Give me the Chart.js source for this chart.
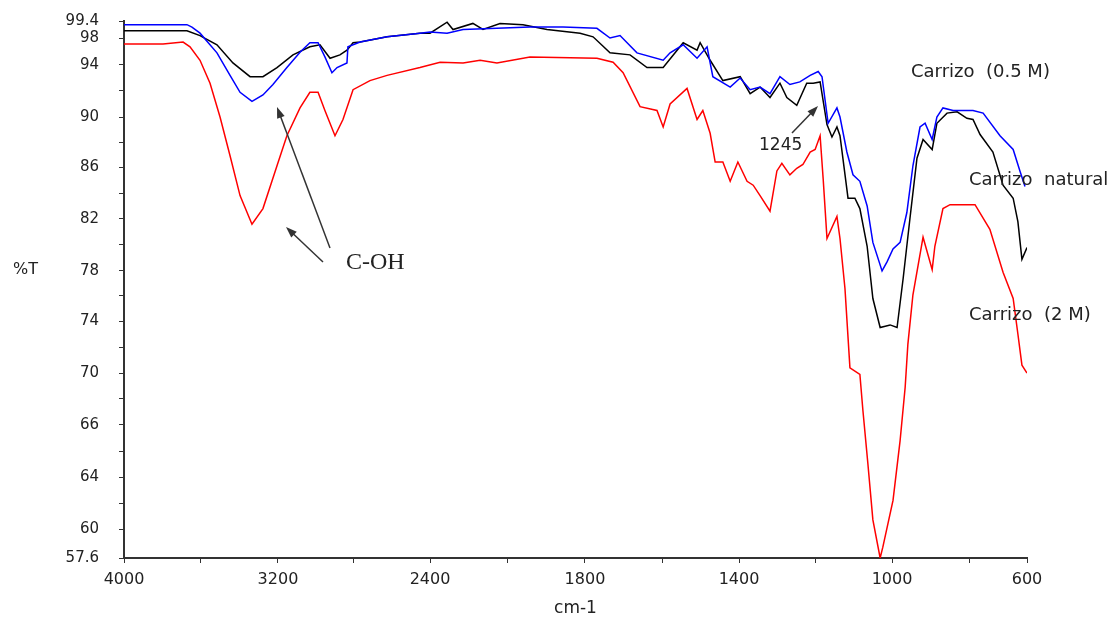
<!DOCTYPE html>
<html>
<head>
<meta charset="utf-8">
<script src="https://cdn.jsdelivr.net/npm/chart.js@4.4.1/dist/chart.umd.min.js"></script>
<style>
	html, body { margin: 0; padding: 0; background: #fff; }
	#wrap { width: 1120px; height: 620px; }
</style>
</head>
<body>
<div id="wrap"><canvas id="myChart" width="1120" height="620"></canvas></div>
<script>
// 축 눈금 (그림에 찍힌 그대로)
const waveTicks = [4000, 3200, 2400, 1800, 1400, 1000, 600];
const waveMinor = [3600, 2800, 2100, 1600, 1200, 770];
const transTicks = [99.4, 98, 94, 90, 86, 82, 78, 74, 70, 66, 64, 60, 57.6];
const transMinor = [92, 88, 84, 80, 76, 72, 68, 65, 62];

// Carrizo natural
const natWave = [4000,3673,3605,3517,3434,3345,3278,3205,3121,3032,2979,2926,2874,2837,2805,2768,2626,2453,2400,2334,2311,2234,2195,2129,2040,1947,1819,1779,1735,1683,1639,1597,1545,1509,1501,1475,1442,1397,1371,1345,1319,1293,1275,1249,1223,1206,1188,1170,1157,1144,1136,1115,1097,1084,1065,1050,1031,1005,985,967,947,926,908,881,867,837,807,778,760,739,701,671,641,627,615,600];
const natT = [98.6,98.6,98.2,97.0,94.3,93.1,93.1,93.8,95.5,96.7,97.0,95.0,95.5,96.2,97.3,97.4,98.1,98.4,98.4,99.3,98.7,99.2,98.7,99.2,99.1,98.7,98.4,98.1,95.8,95.5,93.8,93.8,97.3,96.2,97.3,94.7,92.8,93.1,91.8,92.3,91.5,92.6,91.5,90.9,92.6,92.6,92.7,89.4,88.4,89.2,88.5,83.6,83.6,82.8,79.9,75.8,73.5,73.7,73.5,77.4,82.0,86.7,88.2,87.4,89.5,90.3,90.4,89.9,89.8,88.6,87.2,84.6,83.6,81.8,78.9,79.8];

// Carrizo (0.5 M)
const m05Wave = [4000,3673,3647,3605,3517,3449,3397,3335,3278,3226,3153,3084,3032,2989,2953,2916,2889,2837,2832,2768,2626,2453,2400,2334,2272,2141,2013,1885,1769,1735,1709,1665,1597,1579,1545,1509,1483,1468,1423,1397,1371,1345,1319,1293,1267,1241,1214,1193,1183,1175,1167,1144,1136,1118,1102,1084,1065,1050,1026,1013,997,976,956,938,917,902,881,867,849,819,760,730,680,641,621,606];
const m05T = [99.1,99.1,98.9,98.4,95.8,93.2,91.9,91.2,91.7,92.5,93.8,95.9,97.3,97.3,95.2,93.4,93.8,94.3,96.7,97.4,98.1,98.4,98.5,98.4,98.7,98.8,98.9,98.9,98.8,98.0,98.2,95.8,94.7,95.8,97.0,95.0,96.7,93.1,92.3,93.0,92.1,92.3,91.8,93.1,92.5,92.7,93.2,93.5,93.1,91.3,89.5,90.7,90.0,87.2,85.4,84.9,83.0,80.2,78.0,78.7,79.7,80.2,82.5,86.1,89.2,89.5,88.2,90.0,90.7,90.5,90.5,90.3,88.5,87.4,85.7,84.5];

// Carrizo (2 M)
const m2Wave = [4000,3797,3693,3657,3605,3553,3501,3449,3397,3335,3278,3205,3153,3084,3032,2989,2953,2900,2858,2805,2716,2626,2453,2361,2272,2206,2141,2013,1769,1727,1701,1657,1613,1597,1579,1535,1509,1494,1475,1462,1442,1423,1403,1379,1363,1345,1319,1301,1288,1267,1249,1233,1214,1201,1188,1180,1170,1144,1136,1123,1110,1084,1076,1063,1050,1031,1024,997,976,961,953,938,908,881,873,849,828,754,710,671,641,627,615,600];
const m2T = [97.1,97.1,97.4,96.7,94.7,92.6,90.0,86.9,83.8,81.6,82.8,86.1,88.5,90.7,91.9,91.9,90.5,88.5,89.8,92.1,92.8,93.2,93.8,94.4,94.3,94.7,94.3,95.2,95.0,94.4,93.4,90.8,90.5,89.2,91.0,92.2,89.8,90.5,88.7,86.4,86.4,84.9,86.4,84.9,84.6,83.8,82.6,85.7,86.3,85.4,85.9,86.2,87.2,87.4,88.5,85.1,80.5,82.2,80.5,76.6,70.4,69.9,67.1,64.5,60.7,57.6,58.5,62.2,65.4,68.9,72.2,76.1,80.6,78.1,79.9,82.8,83.1,83.1,81.2,77.9,75.8,73.0,70.6,70.0];

function toPoints(wave, t) {
	return wave.map((w, i) => ({ x: w, y: t[i] }));
}

// 눈금 간격이 고르지 않은 축 (구간별 선형)
class BrokenScale extends Chart.LinearScale {
	buildTicks() {
		const vals = this.options.labelValues.concat(this.options.minorValues);
		return vals.map(v => ({ value: v }));
	}
	toDecimal(value) {
		const vs = this.options.breakValues;
		const ds = this.options.breakPos;
		for (let i = 0; i < vs.length - 1; i++) {
			const a = vs[i], b = vs[i + 1];
			if ((value - a) * (value - b) <= 0) {
				return ds[i] + (value - a) / (b - a) * (ds[i + 1] - ds[i]);
			}
		}
		return value === vs[0] ? ds[0] : ds[ds.length - 1];
	}
	getPixelForValue(value) {
		return this.getPixelForDecimal(this.toDecimal(value));
	}
	getValueForPixel(pixel) {
		const d = this.getDecimalForPixel(pixel);
		const vs = this.options.breakValues;
		const ds = this.options.breakPos;
		for (let i = 0; i < ds.length - 1; i++) {
			if ((d - ds[i]) * (d - ds[i + 1]) <= 0) {
				return vs[i] + (d - ds[i]) / (ds[i + 1] - ds[i]) * (vs[i + 1] - vs[i]);
			}
		}
		return vs[vs.length - 1];
	}
}
BrokenScale.id = 'broken';
BrokenScale.defaults = Chart.LinearScale.defaults;
Chart.register(BrokenScale);

const FONT = 'DejaVu Sans';
const TXT = '#222';

function drawArrow(ctx, x1, y1, x2, y2) {
	const ang = Math.atan2(y2 - y1, x2 - x1);
	ctx.beginPath();
	ctx.moveTo(x1, y1);
	ctx.lineTo(x2 - 8 * Math.cos(ang), y2 - 8 * Math.sin(ang));
	ctx.stroke();
	ctx.beginPath();
	ctx.moveTo(x2, y2);
	ctx.lineTo(x2 - 11 * Math.cos(ang) + 4 * Math.sin(ang), y2 - 11 * Math.sin(ang) - 4 * Math.cos(ang));
	ctx.lineTo(x2 - 11 * Math.cos(ang) - 4 * Math.sin(ang), y2 - 11 * Math.sin(ang) + 4 * Math.cos(ang));
	ctx.closePath();
	ctx.fill();
}

const notesPlugin = {
	id: 'notes',
	afterDraw(chart) {
		const ctx = chart.ctx;
		ctx.save();
		ctx.fillStyle = TXT;
		ctx.textBaseline = 'middle';
		ctx.textAlign = 'left';
		ctx.font = '16px "' + FONT + '"';
		ctx.fillText('%T', 13, 270);
		ctx.font = '18px "' + FONT + '"';
		ctx.fillText('Carrizo  (0.5 M)', 911, 72);
		ctx.fillText('Carrizo  natural', 969, 180);
		ctx.fillText('Carrizo  (2 M)', 969, 315);
		ctx.font = '17px "' + FONT + '"';
		ctx.fillText('1245', 759, 146);
		ctx.font = '24px "Liberation Serif"';
		ctx.fillText('C-OH', 346, 263);

		ctx.strokeStyle = '#333';
		ctx.fillStyle = '#333';
		ctx.lineWidth = 1.5;
		drawArrow(ctx, 330, 248, 277, 107);
		drawArrow(ctx, 323, 262, 286, 227);
		drawArrow(ctx, 792, 133, 818, 106);
		ctx.restore();
	}
};

const chartArea = document.getElementById('myChart').getContext('2d');
const myChart = new Chart(chartArea, {
	type: 'line',
	data: {
		datasets: [{
			label: 'Carrizo (2 M)',
			data: toPoints(m2Wave, m2T),
			borderColor: '#ff0000',
			borderWidth: 1.5,
			pointRadius: 0,
			tension: 0
		}, {
			label: 'Carrizo (0.5 M)',
			data: toPoints(m05Wave, m05T),
			borderColor: '#0000ff',
			borderWidth: 1.5,
			pointRadius: 0,
			tension: 0
		}, {
			label: 'Carrizo natural',
			data: toPoints(natWave, natT),
			borderColor: '#000000',
			borderWidth: 1.5,
			pointRadius: 0,
			tension: 0
		}]
	},
	options: {
		responsive: false,
		animation: false,
		events: [],
		layout: {
			padding: { top: 21, right: 93, bottom: 0, left: 0 }
		},
		plugins: {
			legend: { display: false },
			tooltip: { enabled: false }
		},
		scales: {
			x: {
				type: 'broken',
				min: 600,
				max: 4000,
				labelValues: waveTicks,
				minorValues: waveMinor,
				breakValues: waveTicks,
				breakPos: [0, 0.1705, 0.3389, 0.5105, 0.6811, 0.8505, 1],
				afterFit: scale => { scale.height = 62; },
				grid: { display: true, drawOnChartArea: false, drawTicks: true, tickLength: 5, color: '#333', lineWidth: 1 },
				border: { display: true, color: '#333', width: 2 },
				ticks: {
					autoSkip: false,
					maxRotation: 0,
					padding: 7,
					color: TXT,
					font: { family: FONT, size: 16 },
					callback: v => waveTicks.includes(v) ? String(v) : ''
				},
				title: {
					display: true,
					text: 'cm-1',
					color: TXT,
					font: { family: FONT, size: 17 },
					padding: { top: 0, bottom: 1 }
				}
			},
			y: {
				type: 'broken',
				min: 57.6,
				max: 99.4,
				labelValues: transTicks,
				minorValues: transMinor,
				breakValues: transTicks,
				breakPos: [1, 0.9683, 0.9181, 0.8212, 0.7281, 0.6313, 0.5345, 0.4413, 0.3445, 0.2477, 0.1508, 0.0540, 0],
				afterFit: scale => {
					scale.width = 124;
					// 라벨 간격(padding)이 위아래 여백으로 번지지 않게
					scale.paddingTop = 0;
					scale.paddingBottom = 0;
				},
				grid: { display: true, drawOnChartArea: false, drawTicks: true, tickLength: 5, color: '#333', lineWidth: 1 },
				border: { display: true, color: '#333', width: 2 },
				ticks: {
					autoSkip: false,
					padding: 20,
					color: TXT,
					font: { family: FONT, size: 15 },
					callback: v => transTicks.includes(v) ? String(v) : ''
				}
			}
		}
	},
	plugins: [notesPlugin]
});
</script>
</body>
</html>
